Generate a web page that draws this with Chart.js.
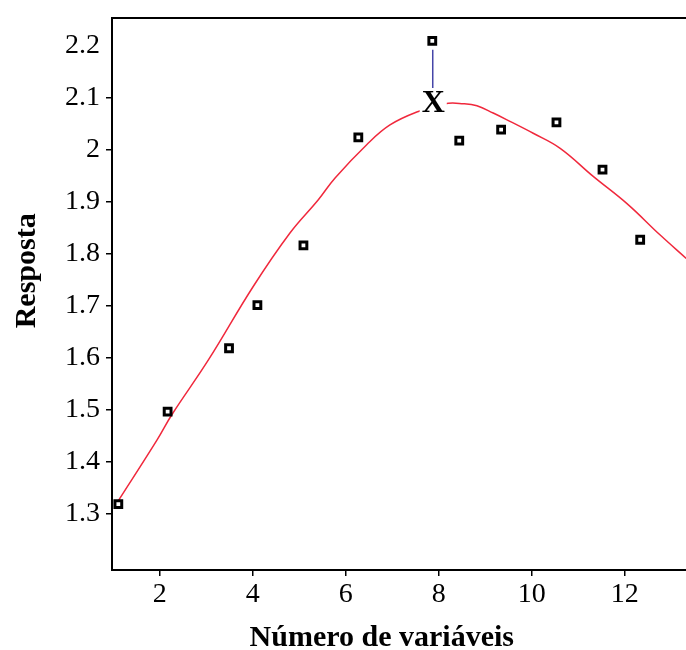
<!DOCTYPE html>
<html>
<head>
<meta charset="utf-8">
<script src="https://cdn.jsdelivr.net/npm/chart.js@4.4.0/dist/chart.umd.min.js"></script>
<style>
  body { margin: 0; background: #fff; }
  #wrap { width: 686px; height: 650px; }
</style>
</head>
<body>
<div id="wrap"><canvas id="myChart" width="686" height="650"></canvas></div>
<script>
// observed responses
const pointX = [1.11, 2.17, 3.49, 4.10, 5.09, 6.27, 7.86, 8.44, 9.34, 10.53, 11.52, 12.33];
const pointY = [1.318, 1.496, 1.618, 1.701, 1.816, 2.024, 2.210, 2.018, 2.039, 2.053, 1.962, 1.827];

// fitted curve
const curveX = [1.08, 1.94, 2.26, 3.05, 4.01, 4.80, 5.41, 5.77, 6.45, 6.95, 7.56, 8.13, 8.53, 8.82, 9.17, 9.53, 10.03, 10.61, 11.32, 12.04, 12.76, 13.32];
const curveY = [1.320, 1.441, 1.490, 1.596, 1.737, 1.840, 1.904, 1.946, 2.010, 2.048, 2.074, 2.089, 2.089, 2.085, 2.071, 2.055, 2.032, 2.003, 1.949, 1.897, 1.836, 1.791];

// maximum of the fit, marked with an X
const peakX = [7.88];
const peakY = [2.090];

// segment from the highest observation down to the maximum
const linkX = [7.87, 7.87];
const linkY = [2.193, 2.119];

const xTicks = [2, 4, 6, 8, 10, 12];
const yTicks = [1.3, 1.4, 1.5, 1.6, 1.7, 1.8, 1.9, 2.0, 2.1, 2.2];

function toXY(xs, ys) {
    return xs.map(function (x, i) { return { x: x, y: ys[i] }; });
}

const serif = '"Liberation Serif", "Times New Roman", serif';

const extras = {
    id: 'extras',
    afterDatasetsDraw(chart) {
        const ctx = chart.ctx;
        const area = chart.chartArea;
        const pt = chart.getDatasetMeta(2).data[0];

        ctx.save();
        // X at the maximum, on a white patch so the curve breaks around it
        ctx.font = 'bold 32px ' + serif;
        ctx.textAlign = 'center';
        ctx.textBaseline = 'middle';
        const w = ctx.measureText('X').width;
        ctx.fillStyle = '#fff';
        ctx.fillRect(pt.x - w / 2 - 2, pt.y - 12, w + 4, 24);
        ctx.fillStyle = '#000';
        ctx.fillText('X', pt.x, pt.y + 1);

        // top frame line
        ctx.strokeStyle = '#000';
        ctx.lineWidth = 2;
        ctx.beginPath();
        ctx.moveTo(area.left, area.top);
        ctx.lineTo(area.right, area.top);
        ctx.stroke();
        ctx.restore();
    },
    afterDraw(chart) {
        const ctx = chart.ctx;
        const area = chart.chartArea;
        ctx.save();
        ctx.fillStyle = '#000';
        ctx.font = 'bold 30px ' + serif;
        ctx.textAlign = 'center';
        ctx.textBaseline = 'middle';
        ctx.fillText('Número de variáveis', area.left + area.width * 0.47, area.bottom + 68);

        ctx.translate(27, area.top + area.height * 0.458);
        ctx.rotate(-Math.PI / 2);
        ctx.fillText('Resposta', 0, 0);
        ctx.restore();
    }
};

const ctx = document.getElementById('myChart');
const myChart = new Chart(ctx, {
    type: 'scatter',
    data: {
        datasets: [{
            label: 'observado',
            data: toXY(pointX, pointY),
            pointStyle: 'rect',
            pointRadius: 4.8,
            borderWidth: 3,
            borderColor: '#000',
            backgroundColor: '#fff'
        }, {
            label: 'ligação',
            data: toXY(linkX, linkY),
            showLine: true,
            pointRadius: 0,
            borderColor: '#4646a8',
            borderWidth: 1.5
        }, {
            label: 'máximo',
            data: toXY(peakX, peakY),
            pointRadius: 0
        }, {
            label: 'ajuste',
            data: toXY(curveX, curveY),
            showLine: true,
            pointRadius: 0,
            borderColor: '#f0283c',
            borderWidth: 1.5,
            tension: 0.4
        }]
    },
    options: {
        responsive: false,
        animation: false,
        layout: {
            autoPadding: false,
            padding: { top: 18, right: 0, left: 0, bottom: 0 }
        },
        plugins: {
            legend: { display: false },
            tooltip: { enabled: false }
        },
        scales: {
            x: {
                type: 'linear',
                min: 0.974,
                max: 13.315,
                afterBuildTicks: function (scale) {
                    scale.ticks = xTicks.map(function (v) { return { value: v }; });
                },
                afterFit: function (scale) {
                    scale.height = 80;
                    scale.paddingLeft = 0;
                    scale.paddingRight = 0;
                },
                grid: { drawOnChartArea: false, tickLength: 6, color: '#000', lineWidth: 1.5 },
                border: { color: '#000', width: 2 },
                ticks: {
                    color: '#000',
                    padding: 2,
                    maxRotation: 0,
                    autoSkip: false,
                    font: { family: serif, size: 28 }
                }
            },
            y: {
                type: 'linear',
                min: 1.191,
                max: 2.254,
                afterBuildTicks: function (scale) {
                    scale.ticks = yTicks.map(function (v) { return { value: v }; });
                },
                afterFit: function (scale) {
                    scale.width = 112;
                    scale.paddingTop = 0;
                    scale.paddingBottom = 0;
                },
                grid: {
                    drawOnChartArea: false,
                    tickLength: 6,
                    lineWidth: 1.5,
                    color: '#000',
                    tickColor: function (c) {
                        return c.tick && c.tick.value === 2.2 ? 'rgba(0,0,0,0)' : '#000';
                    }
                },
                border: { color: '#000', width: 2 },
                ticks: {
                    color: '#000',
                    padding: 6,
                    autoSkip: false,
                    font: { family: serif, size: 28 },
                    callback: function (v) { return String(Math.round(v * 10) / 10); }
                }
            }
        }
    },
    plugins: [extras]
});
</script>
</body>
</html>
